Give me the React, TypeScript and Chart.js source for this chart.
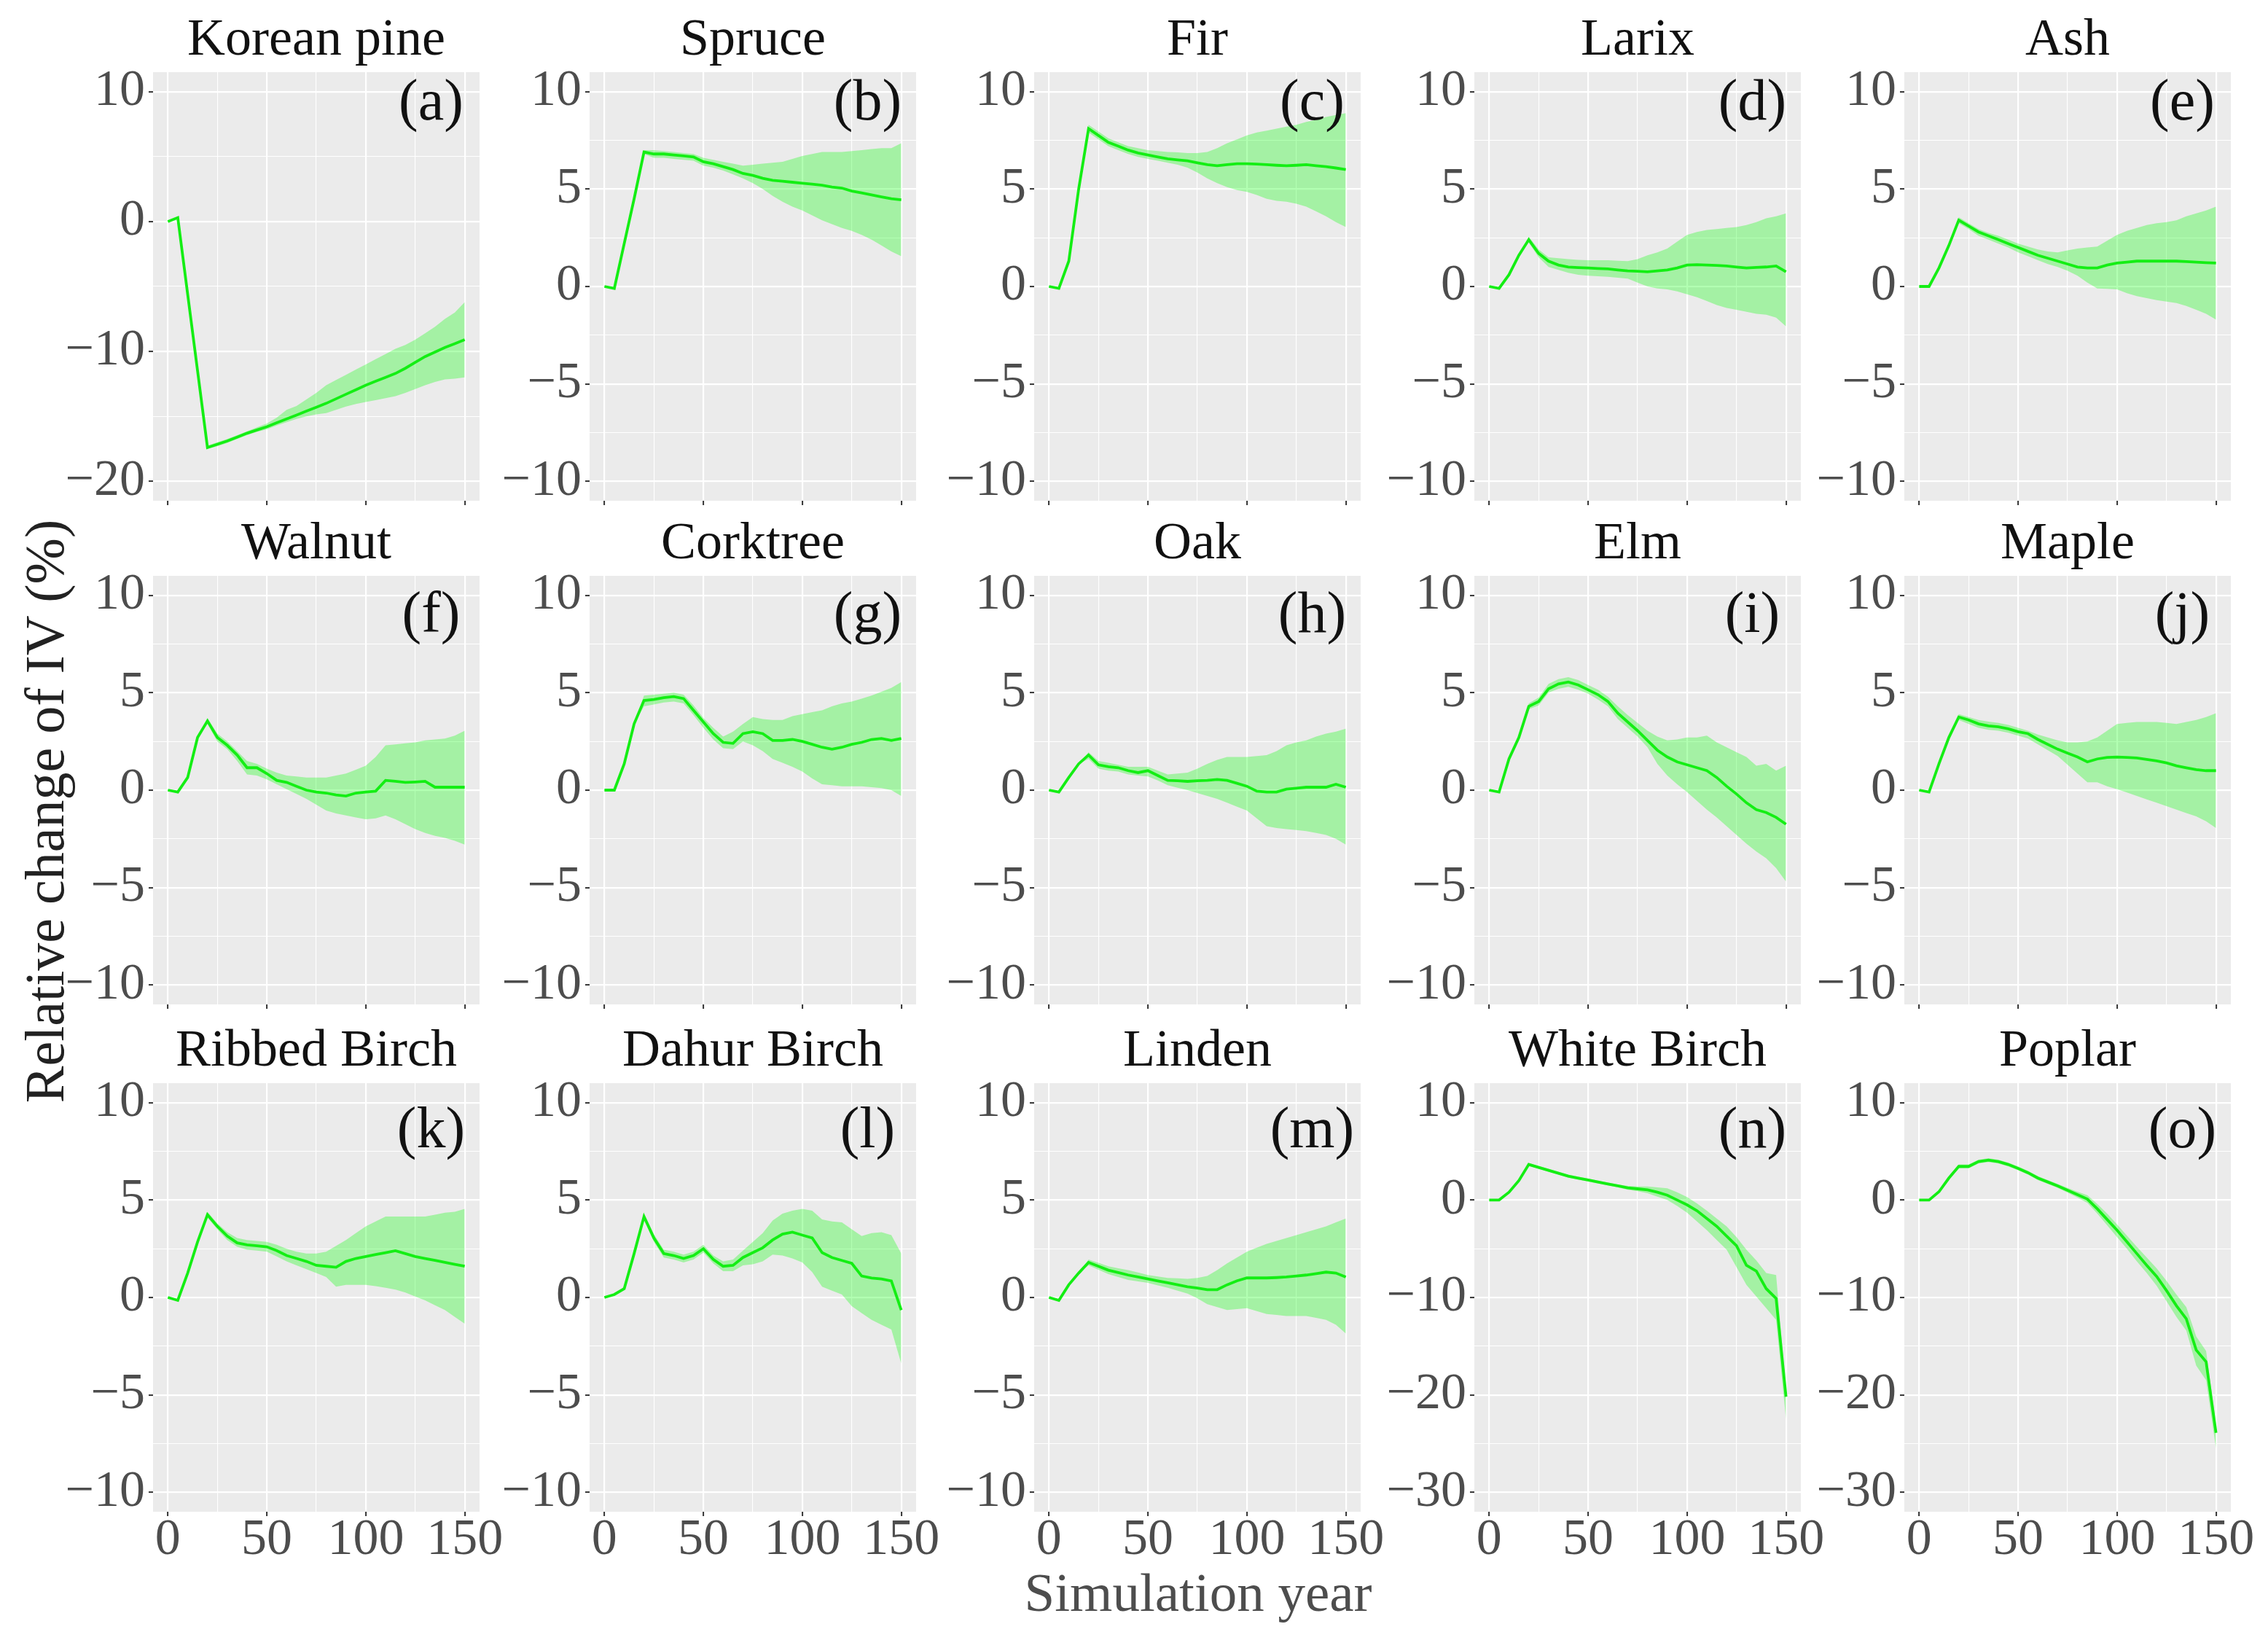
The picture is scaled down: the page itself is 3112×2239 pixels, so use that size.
import React, { useEffect, useRef } from "react";
import { Chart, registerables } from "chart.js";

Chart.register(...registerables);

const SERIF = '"Liberation Serif", "Times New Roman", serif';

// ---------------- data ----------------
const years = [0, 5, 10, 15, 20, 25, 30, 35, 40, 45, 50, 55, 60, 65, 70, 75, 80, 85, 90, 95, 100, 105, 110, 115, 120, 125, 130, 135, 140, 145, 150];

const speciesTitles = ["Korean pine", "Spruce", "Fir", "Larix", "Ash", "Walnut", "Corktree", "Oak", "Elm", "Maple", "Ribbed Birch", "Dahur Birch", "Linden", "White Birch", "Poplar"];
const panelTags = ["(a)", "(b)", "(c)", "(d)", "(e)", "(f)", "(g)", "(h)", "(i)", "(j)", "(k)", "(l)", "(m)", "(n)", "(o)"];

const koreanPineMean = [0, 0.3, -5.6, -11.5, -17.4, -17.15, -16.9, -16.6, -16.3, -16.05, -15.8, -15.5, -15.2, -14.9, -14.6, -14.3, -14.0, -13.65, -13.3, -12.95, -12.6, -12.3, -12.0, -11.7, -11.3, -10.85, -10.4, -10.05, -9.7, -9.4, -9.1];
const koreanPineUpper = [0, 0.3, -5.6, -11.5, -17.25, -17.0, -16.75, -16.45, -16.15, -15.85, -15.55, -15.1, -14.5, -14.2, -13.7, -13.2, -12.6, -12.2, -11.8, -11.4, -11.0, -10.6, -10.2, -9.8, -9.5, -9.1, -8.6, -8.1, -7.5, -7.0, -6.2];
const koreanPineLower = [0, 0.3, -5.6, -11.5, -17.5, -17.3, -17.05, -16.75, -16.45, -16.2, -16.0, -15.7, -15.45, -15.2, -15.0, -14.85, -14.75, -14.5, -14.25, -14.05, -13.9, -13.75, -13.6, -13.45, -13.2, -12.9, -12.6, -12.35, -12.15, -12.1, -12.0];

const spruceMean = [0, -0.1, 2.2, 4.5, 6.9, 6.8, 6.8, 6.75, 6.7, 6.65, 6.4, 6.3, 6.15, 6.0, 5.8, 5.7, 5.55, 5.45, 5.4, 5.35, 5.3, 5.25, 5.2, 5.1, 5.05, 4.9, 4.8, 4.7, 4.6, 4.5, 4.45];
const spruceUpper = [0, -0.1, 2.2, 4.5, 7.0, 7.0, 6.95, 6.9, 6.85, 6.8, 6.6, 6.5, 6.4, 6.3, 6.2, 6.25, 6.3, 6.35, 6.4, 6.55, 6.7, 6.8, 6.9, 6.9, 6.9, 6.95, 7.0, 7.05, 7.1, 7.1, 7.35];
const spruceLower = [0, -0.1, 2.2, 4.5, 6.8, 6.6, 6.6, 6.55, 6.5, 6.45, 6.2, 6.1, 5.95, 5.75, 5.55, 5.3, 5.0, 4.65, 4.35, 4.1, 3.9, 3.65, 3.4, 3.2, 3.0, 2.85, 2.65, 2.4, 2.1, 1.8, 1.55];

const firMean = [0, -0.1, 1.3, 5.0, 8.1, 7.75, 7.4, 7.2, 7.0, 6.85, 6.75, 6.65, 6.55, 6.5, 6.45, 6.35, 6.25, 6.2, 6.25, 6.3, 6.3, 6.28, 6.25, 6.22, 6.2, 6.22, 6.25, 6.2, 6.15, 6.08, 6.0];
const firUpper = [0, -0.1, 1.3, 5.0, 8.3, 7.95, 7.6, 7.4, 7.2, 7.1, 7.0, 6.95, 6.9, 6.88, 6.85, 6.85, 6.9, 7.1, 7.35, 7.55, 7.75, 7.9, 8.0, 8.1, 8.2, 8.3, 8.45, 8.55, 8.7, 8.8, 8.9];
const firLower = [0, -0.1, 1.3, 5.0, 7.9, 7.55, 7.2, 7.0, 6.8, 6.65, 6.55, 6.45, 6.35, 6.25, 6.1, 5.85, 5.55, 5.3, 5.1, 4.95, 4.85, 4.7, 4.5, 4.4, 4.35, 4.25, 4.1, 3.85, 3.6, 3.3, 3.05];

const larixMean = [0, -0.1, 0.6, 1.6, 2.4, 1.7, 1.3, 1.1, 1.0, 0.97, 0.95, 0.92, 0.9, 0.85, 0.8, 0.78, 0.75, 0.8, 0.85, 0.95, 1.1, 1.12, 1.1, 1.08, 1.05, 1.0, 0.95, 0.98, 1.0, 1.05, 0.75];
const larixUpper = [0, -0.1, 0.6, 1.6, 2.55, 1.9, 1.5, 1.45, 1.4, 1.37, 1.35, 1.35, 1.35, 1.32, 1.3, 1.4, 1.6, 1.75, 1.95, 2.3, 2.65, 2.8, 2.9, 2.95, 3.0, 3.05, 3.15, 3.3, 3.5, 3.6, 3.75];
const larixLower = [0, -0.1, 0.6, 1.6, 2.25, 1.5, 1.0, 0.85, 0.7, 0.6, 0.55, 0.52, 0.5, 0.45, 0.4, 0.2, 0.0, -0.1, -0.15, -0.25, -0.4, -0.55, -0.75, -0.95, -1.1, -1.2, -1.3, -1.4, -1.45, -1.6, -2.05];

const ashMean = [0, 0, 0.95, 2.1, 3.4, 3.1, 2.8, 2.6, 2.4, 2.2, 2.0, 1.8, 1.6, 1.45, 1.3, 1.15, 1.0, 0.95, 0.95, 1.1, 1.2, 1.25, 1.3, 1.3, 1.3, 1.3, 1.3, 1.28, 1.25, 1.22, 1.2];
const ashUpper = [0, 0, 0.95, 2.1, 3.55, 3.25, 2.95, 2.75, 2.6, 2.4, 2.2, 2.05, 1.9, 1.8, 1.75, 1.85, 1.95, 2.0, 2.05, 2.35, 2.65, 2.85, 3.0, 3.15, 3.25, 3.3, 3.4, 3.6, 3.75, 3.9, 4.1];
const ashLower = [0, 0, 0.95, 2.1, 3.25, 2.95, 2.6, 2.4, 2.2, 2.0, 1.75, 1.55, 1.35, 1.15, 1.0, 0.8, 0.55, 0.2, -0.1, -0.12, -0.15, -0.35, -0.5, -0.6, -0.7, -0.78, -0.85, -1.0, -1.2, -1.4, -1.7];

const walnutMean = [0, -0.1, 0.65, 2.7, 3.55, 2.7, 2.3, 1.8, 1.15, 1.15, 0.85, 0.5, 0.4, 0.2, 0.0, -0.1, -0.15, -0.25, -0.3, -0.15, -0.1, -0.05, 0.5, 0.45, 0.4, 0.42, 0.45, 0.15, 0.15, 0.15, 0.15];
const walnutUpper = [0, -0.1, 0.65, 2.7, 3.7, 2.9, 2.5, 2.0, 1.5, 1.35, 1.1, 0.9, 0.75, 0.7, 0.65, 0.65, 0.65, 0.75, 0.85, 1.05, 1.25, 1.7, 2.3, 2.35, 2.4, 2.45, 2.55, 2.6, 2.65, 2.8, 3.05];
const walnutLower = [0, -0.1, 0.65, 2.7, 3.4, 2.5, 2.1, 1.5, 0.8, 0.75, 0.55, 0.3, 0.05, -0.2, -0.45, -0.75, -1.05, -1.2, -1.3, -1.4, -1.5, -1.45, -1.3, -1.5, -1.75, -2.0, -2.2, -2.35, -2.45, -2.6, -2.8];

const corktreeMean = [0, 0, 1.35, 3.4, 4.6, 4.65, 4.75, 4.8, 4.7, 4.1, 3.5, 2.9, 2.45, 2.4, 2.9, 3.0, 2.9, 2.55, 2.55, 2.6, 2.5, 2.35, 2.2, 2.1, 2.2, 2.35, 2.45, 2.6, 2.65, 2.55, 2.65];
const corktreeUpper = [0, 0, 1.35, 3.4, 4.85, 4.9, 4.95, 5.0, 4.9, 4.35, 3.7, 3.2, 2.75, 3.0, 3.4, 3.75, 3.65, 3.6, 3.6, 3.8, 3.9, 4.0, 4.1, 4.3, 4.45, 4.55, 4.7, 4.85, 5.05, 5.25, 5.55];
const corktreeLower = [0, 0, 1.35, 3.4, 4.3, 4.4, 4.5, 4.55, 4.45, 3.85, 3.2, 2.6, 2.15, 2.1, 2.5, 2.3, 2.0, 1.6, 1.4, 1.2, 0.95, 0.6, 0.3, 0.25, 0.2, 0.2, 0.2, 0.15, 0.1, 0.0, -0.3];

const oakMean = [0, -0.1, 0.65, 1.35, 1.8, 1.3, 1.2, 1.15, 1.0, 0.9, 1.0, 0.75, 0.5, 0.48, 0.45, 0.48, 0.5, 0.55, 0.5, 0.35, 0.2, -0.05, -0.1, -0.1, 0.05, 0.1, 0.15, 0.15, 0.15, 0.3, 0.15];
const oakUpper = [0, -0.1, 0.65, 1.35, 1.95, 1.5, 1.4, 1.3, 1.2, 1.2, 1.2, 1.0, 0.8, 0.85, 0.9, 1.1, 1.35, 1.55, 1.7, 1.7, 1.7, 1.75, 1.8, 2.0, 2.3, 2.45, 2.55, 2.75, 2.9, 3.0, 3.15];
const oakLower = [0, -0.1, 0.65, 1.35, 1.6, 1.1, 1.0, 0.95, 0.8, 0.75, 0.7, 0.5, 0.25, 0.12, 0.0, -0.15, -0.3, -0.45, -0.65, -0.85, -1.05, -1.45, -1.85, -1.95, -2.0, -2.05, -2.1, -2.2, -2.3, -2.5, -2.8];

const elmMean = [0, -0.1, 1.6, 2.7, 4.3, 4.55, 5.2, 5.45, 5.55, 5.4, 5.15, 4.9, 4.55, 3.95, 3.5, 3.05, 2.55, 2.05, 1.7, 1.45, 1.3, 1.15, 1.0, 0.65, 0.2, -0.2, -0.65, -1.0, -1.15, -1.4, -1.75];
const elmUpper = [0, -0.1, 1.6, 2.7, 4.45, 4.75, 5.45, 5.7, 5.8, 5.65, 5.4, 5.15, 4.8, 4.3, 3.85, 3.45, 3.05, 2.75, 2.55, 2.6, 2.7, 2.7, 2.8, 2.45, 2.2, 1.95, 1.7, 1.25, 1.35, 1.0, 1.25];
const elmLower = [0, -0.1, 1.6, 2.7, 4.15, 4.35, 5.0, 5.2, 5.3, 5.15, 4.95, 4.65, 4.3, 3.65, 3.2, 2.75, 2.2, 1.35, 0.75, 0.3, -0.1, -0.55, -1.0, -1.4, -1.85, -2.3, -2.75, -3.15, -3.5, -4.0, -4.7];

const mapleMean = [0, -0.1, 1.35, 2.7, 3.75, 3.6, 3.4, 3.3, 3.25, 3.15, 3.0, 2.9, 2.6, 2.35, 2.1, 1.9, 1.7, 1.45, 1.6, 1.68, 1.7, 1.68, 1.65, 1.58, 1.5, 1.4, 1.25, 1.15, 1.05, 1.0, 1.0];
const mapleUpper = [0, -0.1, 1.35, 2.7, 3.9, 3.75, 3.6, 3.52, 3.45, 3.35, 3.2, 3.05, 2.85, 2.7, 2.55, 2.45, 2.45, 2.5, 2.7, 3.05, 3.4, 3.45, 3.5, 3.5, 3.5, 3.45, 3.4, 3.5, 3.6, 3.75, 3.95];
const mapleLower = [0, -0.1, 1.35, 2.7, 3.6, 3.4, 3.2, 3.1, 3.05, 2.95, 2.8, 2.65, 2.35, 2.05, 1.75, 1.3, 0.85, 0.4, 0.4, 0.2, 0.05, -0.12, -0.3, -0.48, -0.65, -0.82, -1.0, -1.18, -1.35, -1.6, -1.95];

const ribbedBirchMean = [0, -0.15, 1.25, 2.85, 4.25, 3.65, 3.15, 2.8, 2.7, 2.65, 2.6, 2.4, 2.15, 2.0, 1.85, 1.65, 1.6, 1.55, 1.85, 2.0, 2.1, 2.2, 2.3, 2.4, 2.25, 2.1, 2.0, 1.9, 1.8, 1.7, 1.6];
const ribbedBirchUpper = [0, -0.15, 1.25, 2.85, 4.4, 3.8, 3.35, 3.05, 2.95, 2.9, 2.85, 2.7, 2.5, 2.35, 2.25, 2.25, 2.35, 2.65, 2.95, 3.3, 3.65, 3.9, 4.15, 4.15, 4.15, 4.15, 4.15, 4.25, 4.35, 4.4, 4.55];
const ribbedBirchLower = [0, -0.15, 1.25, 2.85, 4.1, 3.5, 2.95, 2.6, 2.45, 2.4, 2.35, 2.1, 1.85, 1.65, 1.45, 1.25, 1.05, 0.55, 0.65, 0.65, 0.65, 0.58, 0.5, 0.4, 0.25, 0.05, -0.15, -0.4, -0.65, -1.0, -1.35];

const dahurBirchMean = [0, 0.15, 0.45, 2.25, 4.15, 3.05, 2.25, 2.15, 2.0, 2.15, 2.5, 1.95, 1.6, 1.65, 2.05, 2.3, 2.55, 2.95, 3.25, 3.35, 3.2, 3.05, 2.3, 2.05, 1.9, 1.75, 1.1, 1.0, 0.95, 0.85, -0.65];
const dahurBirchUpper = [0, 0.15, 0.45, 2.25, 4.3, 3.25, 2.45, 2.35, 2.2, 2.35, 2.7, 2.15, 1.85, 1.95, 2.4, 2.85, 3.3, 3.95, 4.3, 4.45, 4.55, 4.45, 4.0, 3.9, 3.85, 3.5, 3.15, 3.3, 3.35, 3.2, 2.25];
const dahurBirchLower = [0, 0.15, 0.45, 2.25, 4.0, 2.85, 2.05, 1.95, 1.8, 1.95, 2.3, 1.75, 1.35, 1.35, 1.65, 1.7, 1.85, 2.2, 2.15, 2.0, 1.8, 1.3, 0.55, 0.35, 0.15, -0.45, -0.8, -1.15, -1.4, -1.65, -3.4];

const lindenMean = [0, -0.15, 0.65, 1.25, 1.8, 1.6, 1.4, 1.28, 1.15, 1.05, 0.95, 0.85, 0.75, 0.65, 0.55, 0.48, 0.4, 0.4, 0.65, 0.85, 1.0, 1.0, 1.0, 1.02, 1.05, 1.1, 1.15, 1.22, 1.3, 1.25, 1.05];
const lindenUpper = [0, -0.15, 0.65, 1.25, 1.95, 1.78, 1.6, 1.5, 1.4, 1.28, 1.15, 1.08, 1.0, 0.98, 0.95, 1.0, 1.1, 1.4, 1.75, 2.05, 2.35, 2.55, 2.75, 2.9, 3.05, 3.2, 3.35, 3.5, 3.65, 3.85, 4.05];
const lindenLower = [0, -0.15, 0.65, 1.25, 1.65, 1.42, 1.2, 1.05, 0.9, 0.82, 0.75, 0.62, 0.5, 0.35, 0.2, -0.05, -0.35, -0.5, -0.65, -0.6, -0.55, -0.7, -0.85, -0.9, -0.95, -0.95, -0.95, -1.05, -1.15, -1.4, -1.85];

const whiteBirchMean = [0, 0, 0.8, 2.0, 3.65, 3.35, 3.05, 2.75, 2.45, 2.25, 2.05, 1.85, 1.65, 1.45, 1.25, 1.15, 1.05, 0.8, 0.5, 0.0, -0.5, -1.1, -1.9, -2.7, -3.7, -4.7, -6.7, -7.3, -9.1, -10.1, -20.2];
const whiteBirchUpper = [0, 0, 0.8, 2.0, 3.8, 3.5, 3.2, 2.9, 2.6, 2.4, 2.2, 2.0, 1.8, 1.6, 1.45, 1.4, 1.4, 1.3, 1.2, 0.8, 0.3, -0.35, -1.1, -1.9, -2.7, -3.8, -5.1, -6.2, -7.5, -7.7, -19.5];
const whiteBirchLower = [0, 0, 0.8, 2.0, 3.5, 3.2, 2.9, 2.6, 2.3, 2.1, 1.9, 1.7, 1.5, 1.3, 1.05, 0.9, 0.7, 0.35, 0.0, -0.6, -1.3, -2.2, -3.1, -4.1, -5.1, -6.9, -8.7, -9.9, -11.1, -12.3, -22.5];

const poplarMean = [0, 0, 0.85, 2.25, 3.45, 3.45, 3.95, 4.1, 3.95, 3.65, 3.25, 2.8, 2.25, 1.85, 1.45, 1.0, 0.55, 0.1, -0.9, -2.0, -3.1, -4.3, -5.5, -6.7, -7.85, -9.3, -10.85, -12.2, -15.4, -16.6, -23.9];
const poplarUpper = [0, 0, 0.85, 2.25, 3.65, 3.65, 4.15, 4.3, 4.15, 3.85, 3.45, 3.0, 2.45, 2.05, 1.65, 1.25, 0.85, 0.5, -0.4, -1.4, -2.5, -3.65, -4.8, -5.9, -7.0, -8.3, -9.7, -11.0, -14.0, -15.5, -23.0];
const poplarLower = [0, 0, 0.85, 2.25, 3.25, 3.25, 3.75, 3.9, 3.75, 3.45, 3.05, 2.6, 2.05, 1.65, 1.25, 0.75, 0.25, -0.3, -1.4, -2.6, -3.8, -5.0, -6.3, -7.5, -8.8, -10.4, -12.0, -13.4, -17.0, -18.5, -25.5];

const meanSeries = [koreanPineMean, spruceMean, firMean, larixMean, ashMean, walnutMean, corktreeMean, oakMean, elmMean, mapleMean, ribbedBirchMean, dahurBirchMean, lindenMean, whiteBirchMean, poplarMean];
const upperSeries = [koreanPineUpper, spruceUpper, firUpper, larixUpper, ashUpper, walnutUpper, corktreeUpper, oakUpper, elmUpper, mapleUpper, ribbedBirchUpper, dahurBirchUpper, lindenUpper, whiteBirchUpper, poplarUpper];
const lowerSeries = [koreanPineLower, spruceLower, firLower, larixLower, ashLower, walnutLower, corktreeLower, oakLower, elmLower, mapleLower, ribbedBirchLower, dahurBirchLower, lindenLower, whiteBirchLower, poplarLower];

// tick values
const xMajorTicks = [0, 50, 100, 150];
const xMinorTicks = [25, 75, 125];
const yMajorStd = [-10, -5, 0, 5, 10];
const yMinorStd = [-7.5, -2.5, 2.5, 7.5];
const yMajorPine = [-20, -10, 0, 10];
const yMinorPine = [-15, -5, 5];
const yMajorDeep = [-30, -20, -10, 0, 10];
const yMinorDeep = [-25, -15, -5, 5];

// axis ranges (ggplot limits with 5% expansion)
const xRange = [-7.5, 157.5];
const yRangeStd = [-11, 11];
const yRangePine = [-21.5, 11.5];
const yRangeDeep = [-32, 12];
const yKinds = ["pine", "std", "std", "std", "std", "std", "std", "std", "std", "std", "std", "std", "std", "deep", "deep"];
const TAG_X = 133;

// ---------------- layout & style ----------------
const PLOT_LEFTS = [210, 809, 1419, 2023, 2613];
const PLOT_TOPS = [99, 790, 1486];
const PLOT_W = 448;
const PLOT_H = 588;
const AXIS_W = 150;
const PAD_TOP = 110;
const PAD_RIGHT = 70;
const AXIS_H = 110;
const TAG_OFFSETS = [44, 56, 67];

const LINE_COLOR = "#14EE14";
const RIBBON_COLOR = "rgba(0,255,0,0.3)";
const PANEL_BG = "#EBEBEB";
const TICK_TEXT = "#4D4D4D";

const fmt = (v: number) => (v < 0 ? "\u2212" + Math.abs(v) : String(v));

const panelDecor = {
  id: "panelDecor",
  beforeDraw(chart: any) {
    const { ctx, chartArea: a } = chart;
    ctx.save();
    ctx.fillStyle = PANEL_BG;
    ctx.fillRect(a.left, a.top, a.right - a.left, a.bottom - a.top);
    ctx.restore();
  },
  afterDraw(chart: any, _args: any, opts: any) {
    const { ctx, chartArea: a, scales } = chart;
    ctx.save();
    ctx.fillStyle = "#111111";
    ctx.font = `72px ${SERIF}`;
    ctx.textAlign = "center";
    ctx.textBaseline = "alphabetic";
    ctx.fillText(opts.title, (a.left + a.right) / 2, a.top - 24);
    ctx.font = `80px ${SERIF}`;
    ctx.textBaseline = "middle";
    ctx.fillText(opts.tag, scales.x.getPixelForValue(TAG_X), a.top + opts.tagOffset);
    ctx.restore();
  },
};

function Panel({ idx }: { idx: number }) {
  const ref = useRef<HTMLCanvasElement>(null);
  const row = Math.floor(idx / 5);
  const col = idx % 5;
  const canvasW = AXIS_W + PLOT_W + PAD_RIGHT;
  const canvasH = PAD_TOP + PLOT_H + AXIS_H;
  const left = PLOT_LEFTS[col] - AXIS_W;
  const top = PLOT_TOPS[row] - PAD_TOP;

  useEffect(() => {
    const canvas = ref.current;
    if (!canvas) return;
    const kind = yKinds[idx];
    const yMajor = kind === "pine" ? yMajorPine : kind === "deep" ? yMajorDeep : yMajorStd;
    const yMinor = kind === "pine" ? yMinorPine : kind === "deep" ? yMinorDeep : yMinorStd;
    const yRange = kind === "pine" ? yRangePine : kind === "deep" ? yRangeDeep : yRangeStd;
    const showX = row === 2;
    const pts = (arr: number[]) => years.map((x, i) => ({ x, y: arr[i] }));
    const tickList = (major: number[], minor: number[]) =>
      [...major, ...minor].sort((a, b) => a - b).map((v) => ({ value: v }));

    const chart = new Chart(canvas, {
      type: "line",
      data: {
        datasets: [
          {
            data: pts(meanSeries[idx]),
            borderColor: LINE_COLOR,
            borderWidth: 3.8,
            pointRadius: 0,
            fill: false,
            order: 0,
          },
          {
            data: pts(upperSeries[idx]),
            borderColor: "rgba(0,0,0,0)",
            borderWidth: 0,
            backgroundColor: RIBBON_COLOR,
            pointRadius: 0,
            fill: "+1",
            order: 1,
          },
          {
            data: pts(lowerSeries[idx]),
            borderColor: "rgba(0,0,0,0)",
            borderWidth: 0,
            pointRadius: 0,
            fill: false,
            order: 2,
          },
        ],
      },
      options: {
        responsive: false,
        animation: false,
        events: [],
        layout: { padding: { left: 0, top: PAD_TOP, right: PAD_RIGHT, bottom: 0 } },
        plugins: {
          legend: { display: false },
          tooltip: { enabled: false },
          panelDecor: { title: speciesTitles[idx], tag: panelTags[idx], tagOffset: TAG_OFFSETS[row] },
        } as any,
        scales: {
          x: {
            type: "linear",
            min: xRange[0],
            max: xRange[1],
            afterBuildTicks: (s: any) => {
              s.ticks = tickList(xMajorTicks, xMinorTicks);
            },
            afterFit: (s: any) => {
              s.height = AXIS_H;
            },
            border: { display: false },
            grid: {
              color: "#FFFFFF",
              lineWidth: (c: any) => (xMajorTicks.includes(c.tick?.value) ? 2.2 : 1.1),
              drawTicks: true,
              tickLength: 6,
              tickWidth: 2,
              tickColor: (c: any) => (xMajorTicks.includes(c.tick?.value) ? "#333333" : "rgba(0,0,0,0)"),
            },
            ticks: {
              autoSkip: false,
              maxRotation: 0,
              minRotation: 0,
              padding: 0,
              color: TICK_TEXT,
              font: { family: SERIF, size: 70, lineHeight: 0.95 },
              callback: (v: any) => (showX && xMajorTicks.includes(Number(v)) ? fmt(Number(v)) : ""),
            },
          },
          y: {
            type: "linear",
            min: yRange[0],
            max: yRange[1],
            afterBuildTicks: (s: any) => {
              s.ticks = tickList(yMajor, yMinor);
            },
            afterFit: (s: any) => {
              s.width = AXIS_W;
            },
            border: { display: false },
            grid: {
              color: "#FFFFFF",
              lineWidth: (c: any) => (yMajor.includes(c.tick?.value) ? 2.2 : 1.1),
              drawTicks: true,
              tickLength: 6,
              tickWidth: 2,
              tickColor: (c: any) => (yMajor.includes(c.tick?.value) ? "#333333" : "rgba(0,0,0,0)"),
            },
            ticks: {
              autoSkip: false,
              padding: 5,
              color: TICK_TEXT,
              font: { family: SERIF, size: 70, lineHeight: 1.2 },
              callback: (v: any) => (yMajor.includes(Number(v)) ? fmt(Number(v)) : ""),
            },
          },
        },
      } as any,
      plugins: [panelDecor as any],
    });
    return () => chart.destroy();
  }, [idx]);

  return (
    <canvas
      ref={ref}
      width={canvasW}
      height={canvasH}
      style={{ position: "absolute", left, top, width: canvasW, height: canvasH }}
    />
  );
}

export default function App() {
  useEffect(() => {
    document.body.style.margin = "0";
  }, []);
  return (
    <div
      style={{
        position: "absolute",
        left: 0,
        top: 0,
        width: 3112,
        height: 2239,
        background: "#FFFFFF",
        overflow: "hidden",
      }}
    >
      {speciesTitles.map((_, i) => (
        <Panel key={i} idx={i} />
      ))}
      <div
        style={{
          position: "absolute",
          left: 61 - 500,
          top: 1113 - 40,
          width: 1000,
          height: 80,
          lineHeight: "80px",
          textAlign: "center",
          fontFamily: SERIF,
          fontSize: 76,
          color: "#222222",
          whiteSpace: "nowrap",
          transform: "rotate(-90deg)",
          transformOrigin: "center center",
        }}
      >
        Relative change of IV (%)
      </div>
      <div
        style={{
          position: "absolute",
          left: 1644 - 400,
          top: 2147,
          width: 800,
          height: 75,
          lineHeight: "75px",
          textAlign: "center",
          fontFamily: SERIF,
          fontSize: 75,
          color: TICK_TEXT,
          whiteSpace: "nowrap",
        }}
      >
        Simulation year
      </div>
    </div>
  );
}
